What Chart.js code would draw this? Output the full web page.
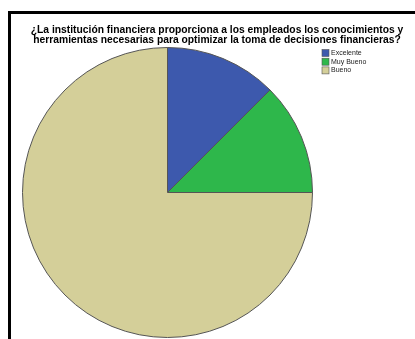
<!DOCTYPE html>
<html>
<head>
<meta charset="utf-8">
<script src="https://cdn.jsdelivr.net/npm/chart.js@4/dist/chart.umd.min.js"></script>
<style>
html,body{margin:0;padding:0;background:#fff;overflow:hidden;width:415px;height:339px;}
#frame{position:absolute;left:8px;top:11px;width:600px;height:600px;border-left:3px solid #000;border-top:3px solid #000;}
#wrap{position:absolute;left:0;top:0;width:415px;height:339px;}
</style>
</head>
<body>
<div id="frame"></div>
<div id="wrap"><canvas id="c" width="415" height="339"></canvas></div>
<script>
const titleLines = [
  "¿La institución financiera proporciona a los empleados los conocimientos y",
  "herramientas necesarias para optimizar la toma de decisiones financieras?"
];
const categories = ["Excelente", "Muy Bueno", "Bueno"];
const values = [12.5, 12.5, 75];
const colors = ["#3d59ad", "#2eb74b", "#d4cf99"];

const decor = {
  id: 'decor',
  afterDraw(chart) {
    const ctx = chart.ctx;
    ctx.save();
    ctx.fillStyle = '#000';
    ctx.font = 'bold 10.3px "Liberation Sans", Arial, sans-serif';
    ctx.textAlign = 'center';
    ctx.textBaseline = 'middle';
    ctx.fillText(titleLines[0], 217, 30);
    ctx.fillText(titleLines[1], 217, 40);
    // legend
    ctx.font = '7px "Liberation Sans", Arial, sans-serif';
    ctx.textAlign = 'left';
    const ds = chart.data.datasets[0];
    chart.data.labels.forEach((lab, i) => {
      const y = 53 + i * 8.7;
      ctx.fillStyle = ds.backgroundColor[i];
      ctx.fillRect(322, y - 3.5, 7, 7);
      ctx.strokeStyle = '#555';
      ctx.lineWidth = 0.6;
      ctx.strokeRect(322, y - 3.5, 7, 7);
      ctx.fillStyle = '#222';
      ctx.fillText(lab, 331, y);
    });
    ctx.restore();
  }
};

new Chart(document.getElementById('c'), {
  type: 'pie',
  data: {
    labels: categories,
    datasets: [{
      data: values,
      backgroundColor: colors,
      borderColor: '#555555',
      borderWidth: 1
    }]
  },
  options: {
    responsive: false,
    animation: false,
    layout: { padding: { left: 22, top: 47, right: 102, bottom: 1 } },
    plugins: {
      legend: { display: false },
      title: { display: false },
      tooltip: { enabled: false }
    }
  },
  plugins: [decor]
});
</script>
</body>
</html>
